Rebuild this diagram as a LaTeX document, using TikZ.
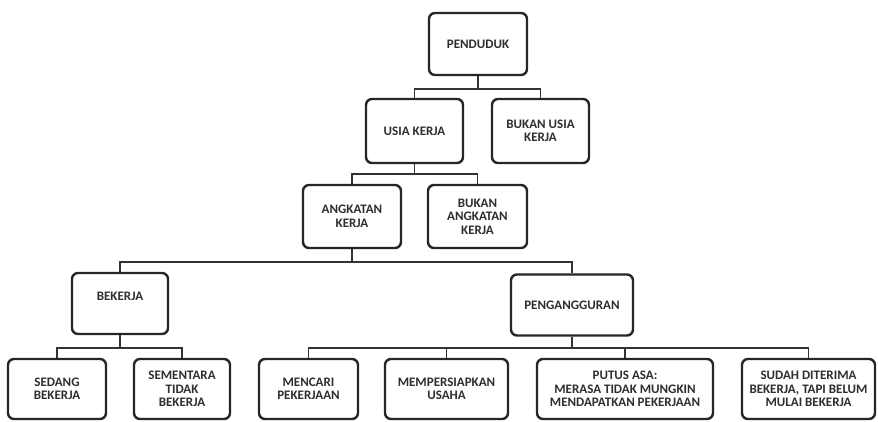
\documentclass[tikz,border=0pt]{standalone}
\usepackage{fontspec}
\setmainfont{Carlito}
\begin{document}
\begin{tikzpicture}[x=1pt,y=-1pt,
  lbl/.style={font=\bfseries\fontsize{13}{13.5}\selectfont, text=black!82},
  box/.style={lbl, draw=black!85, line width=2.4pt, rounded corners=6pt, align=center,
    inner sep=1pt, fill=white},
  conn/.style={draw=black!80, line width=1.8pt}]
\useasboundingbox (0,0) rectangle (878,421);
\fill[white] (0,0) rectangle (878,421);
% nodes
\node[box, minimum width=98pt, minimum height=62pt] (pend) at (478,44) {PENDUDUK};
\node[box, minimum width=97pt, minimum height=64pt] (usia) at (414.5,131) {USIA KERJA};
\node[box, minimum width=97pt, minimum height=64pt] (busia) at (540.5,131) {BUKAN USIA\\KERJA};
\node[box, minimum width=98pt, minimum height=63pt] (ak) at (352,216.5) {ANGKATAN\\KERJA};
\node[box, minimum width=99pt, minimum height=63pt] (bak) at (477.5,216.5) {BUKAN\\ANGKATAN\\KERJA};
\node[box, minimum width=96pt, minimum height=61pt] (bek) at (120,303.5) {};
\node[lbl] (bekT) at (120,296) {BEKERJA};
\node[box, minimum width=122pt, minimum height=61pt] (peng) at (572,305) {PENGANGGURAN};
\node[box, minimum width=98pt, minimum height=60pt] (sed) at (57,389) {SEDANG\\BEKERJA};
\node[box, minimum width=96pt, minimum height=60pt] (sem) at (182,389) {SEMENTARA\\TIDAK\\BEKERJA};
\node[box, minimum width=99pt, minimum height=60pt] (men) at (308.5,389) {MENCARI\\PEKERJAAN};
\node[box, minimum width=123pt, minimum height=60pt] (mem) at (446.5,389) {MEMPERSIAPKAN\\USAHA};
\node[box, minimum width=176pt, minimum height=60pt] (put) at (625,389) {PUTUS ASA:\\MERASA TIDAK MUNGKIN\\MENDAPATKAN PEKERJAAN};
\node[box, minimum width=133pt, minimum height=60pt] (sud) at (808.5,389) {SUDAH DITERIMA\\BEKERJA, TAPI BELUM\\MULAI BEKERJA};
% connectors
\draw[conn] (pend.south) -- ++(0,13) -| (usia.north);
\draw[conn] (pend.south) ++(0,13) -| (busia.north);
\draw[conn] (usia.south) -- ++(0,10) -| (ak.north);
\draw[conn] (usia.south) ++(0,10) -| (bak.north);
\draw[conn] (ak.south) -- ++(0,13) -| (bek.north);
\draw[conn] (ak.south) ++(0,13) -| (peng.north);
\draw[conn] (bek.south) -- ++(0,13) -| (sed.north);
\draw[conn] (bek.south) ++(0,13) -| (sem.north);
\draw[conn] (peng.south) -- ++(0,11) -| (men.north);
\draw[conn] (peng.south) ++(0,11) -| (mem.north);
\draw[conn] (peng.south) ++(0,11) -| (put.north);
\draw[conn] (peng.south) ++(0,11) -| (sud.north);
\end{tikzpicture}
\end{document}
